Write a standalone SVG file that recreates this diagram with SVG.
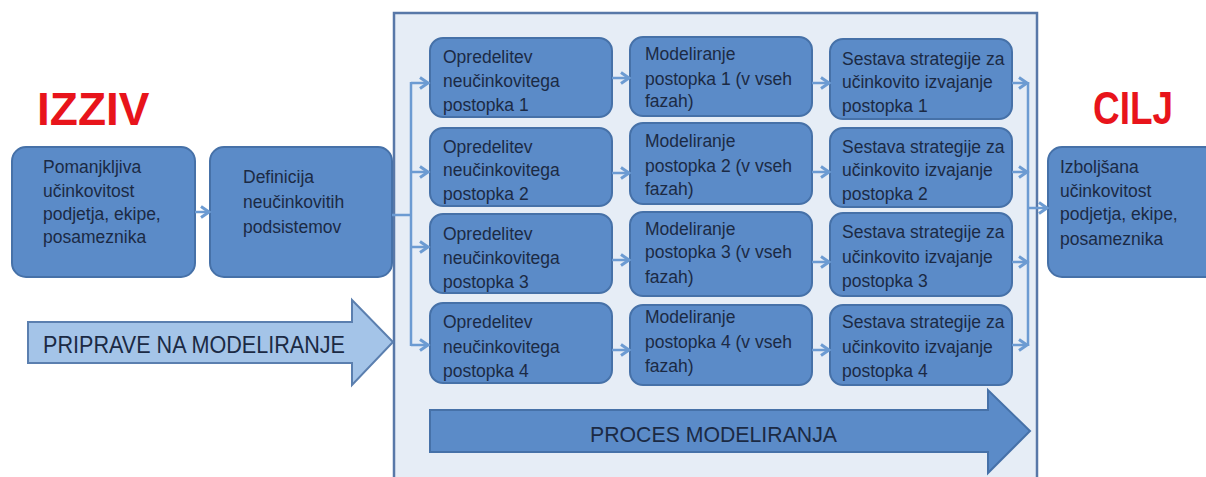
<svg xmlns="http://www.w3.org/2000/svg" width="1206" height="477" viewBox="0 0 1206 477">
<style>
.box{fill:#5B8BC8;stroke:#4671A8;stroke-width:2}
.t{font-family:"Liberation Sans",Arial,sans-serif;font-size:17.5px;fill:#1B2A44}
.big{font-family:"Liberation Sans",Arial,sans-serif;font-size:46px;font-weight:bold;fill:#E8141B}
.con{fill:none;stroke:#6C9BD2;stroke-width:2.5}
</style>
<defs>
<marker id="ah" markerUnits="userSpaceOnUse" markerWidth="14" markerHeight="14" refX="11" refY="7" orient="auto">
<path d="M3,1.5 L11,7 L3,12.5" fill="none" stroke="#6C9BD2" stroke-width="3"/>
</marker>
</defs>
<rect width="1206" height="477" fill="#FFFFFF"/>
<g id="container">
<rect x="394" y="13" width="643" height="475" fill="#E6EDF6" stroke="#5878A8" stroke-width="2.5"/>
</g>
<g id="title-izziv"><text class="big" x="37" y="125">IZZIV</text></g>
<g id="title-cilj"><text class="big" x="1093" y="124" textLength="80" lengthAdjust="spacingAndGlyphs">CILJ</text></g>

<g id="node-izziv">
<rect class="box" x="12" y="147" width="183" height="130" rx="14"/>
<text class="t"><tspan x="43" y="173">Pomanjkljiva</tspan><tspan x="43" y="197">učinkovitost</tspan><tspan x="43" y="220">podjetja, ekipe,</tspan><tspan x="43" y="243">posameznika</tspan></text>
</g>
<g id="node-definicija">
<rect class="box" x="210" y="147" width="182" height="130" rx="14"/>
<text class="t"><tspan x="243" y="183">Definicija</tspan><tspan x="243" y="208">neučinkovitih</tspan><tspan x="243" y="233">podsistemov</tspan></text>
</g>
<g id="node-cilj">
<rect class="box" x="1048" y="147" width="170" height="130" rx="14"/>
<text class="t"><tspan x="1060" y="173">Izboljšana</tspan><tspan x="1060" y="197">učinkovitost</tspan><tspan x="1060" y="220">podjetja, ekipe,</tspan><tspan x="1060" y="245">posameznika</tspan></text>
</g>

<g id="node-opr1"><rect class="box" x="430" y="38" width="182" height="79" rx="13"/>
<text class="t"><tspan x="443" y="63">Opredelitev</tspan><tspan x="443" y="87">neučinkovitega</tspan><tspan x="443" y="111">postopka 1</tspan></text></g>
<g id="node-opr2"><rect class="box" x="430" y="128" width="182" height="78" rx="13"/>
<text class="t"><tspan x="443" y="153">Opredelitev</tspan><tspan x="443" y="176">neučinkovitega</tspan><tspan x="443" y="200">postopka 2</tspan></text></g>
<g id="node-opr3"><rect class="box" x="430" y="214" width="182" height="79" rx="13"/>
<text class="t"><tspan x="443" y="240">Opredelitev</tspan><tspan x="443" y="264">neučinkovitega</tspan><tspan x="443" y="288">postopka 3</tspan></text></g>
<g id="node-opr4"><rect class="box" x="430" y="303" width="182" height="80" rx="13"/>
<text class="t"><tspan x="443" y="328">Opredelitev</tspan><tspan x="443" y="353">neučinkovitega</tspan><tspan x="443" y="377">postopka 4</tspan></text></g>

<g id="node-mod1"><rect class="box" x="630" y="37" width="182" height="79" rx="13"/>
<text class="t"><tspan x="645" y="60">Modeliranje</tspan><tspan x="645" y="85">postopka 1 (v vseh</tspan><tspan x="645" y="107">fazah)</tspan></text></g>
<g id="node-mod2"><rect class="box" x="630" y="123" width="182" height="81" rx="13"/>
<text class="t"><tspan x="645" y="147">Modeliranje</tspan><tspan x="645" y="172">postopka 2 (v vseh</tspan><tspan x="645" y="195">fazah)</tspan></text></g>
<g id="node-mod3"><rect class="box" x="630" y="212" width="182" height="84" rx="13"/>
<text class="t"><tspan x="645" y="235">Modeliranje</tspan><tspan x="645" y="258">postopka 3 (v vseh</tspan><tspan x="645" y="283">fazah)</tspan></text></g>
<g id="node-mod4"><rect class="box" x="630" y="305" width="182" height="80" rx="13"/>
<text class="t"><tspan x="645" y="323">Modeliranje</tspan><tspan x="645" y="348">postopka 4 (v vseh</tspan><tspan x="645" y="372">fazah)</tspan></text></g>

<g id="node-ses1"><rect class="box" x="830" y="39" width="182" height="80" rx="13"/>
<text class="t"><tspan x="842" y="65">Sestava strategije za</tspan><tspan x="842" y="88">učinkovito izvajanje</tspan><tspan x="842" y="112">postopka 1</tspan></text></g>
<g id="node-ses2"><rect class="box" x="830" y="128" width="182" height="79" rx="13"/>
<text class="t"><tspan x="842" y="153">Sestava strategije za</tspan><tspan x="842" y="176">učinkovito izvajanje</tspan><tspan x="842" y="200">postopka 2</tspan></text></g>
<g id="node-ses3"><rect class="box" x="830" y="213" width="182" height="83" rx="13"/>
<text class="t"><tspan x="842" y="238">Sestava strategije za</tspan><tspan x="842" y="263">učinkovito izvajanje</tspan><tspan x="842" y="287">postopka 3</tspan></text></g>
<g id="node-ses4"><rect class="box" x="830" y="305" width="182" height="80" rx="13"/>
<text class="t"><tspan x="842" y="328">Sestava strategije za</tspan><tspan x="842" y="353">učinkovito izvajanje</tspan><tspan x="842" y="377">postopka 4</tspan></text></g>

<g id="arrow-priprave">
<path d="M28,322 L352,322 L352,300 L393,342 L352,385 L352,363 L28,363 Z" fill="#A4C4E8" stroke="#5B7FAF" stroke-width="2"/>
<text x="43" y="353" textLength="302" lengthAdjust="spacingAndGlyphs" style="font-family:'Liberation Sans',Arial,sans-serif;font-size:24px;fill:#1B2A44">PRIPRAVE NA MODELIRANJE</text>
</g>
<g id="arrow-proces">
<path d="M430,410 L988,410 L988,390 L1030,431 L988,473 L988,452 L430,452 Z" fill="#5B8BC8" stroke="#4671A8" stroke-width="2"/>
<text x="590" y="442" textLength="247" lengthAdjust="spacingAndGlyphs" style="font-family:'Liberation Sans',Arial,sans-serif;font-size:22px;fill:#1B2A44">PROCES MODELIRANJA</text>
</g>

<g id="connectors">
<path class="con" marker-end="url(#ah)" d="M195,212 L209,212"/>
<path class="con" d="M392,215 L411,215 M411,82 L411,346"/>
<path class="con" marker-end="url(#ah)" d="M411,83 L428,83"/>
<path class="con" marker-end="url(#ah)" d="M411,172 L428,172"/>
<path class="con" marker-end="url(#ah)" d="M411,247 L428,247"/>
<path class="con" marker-end="url(#ah)" d="M411,345 L428,345"/>
<path class="con" marker-end="url(#ah)" d="M612,78 L629,78"/>
<path class="con" marker-end="url(#ah)" d="M612,173 L629,173"/>
<path class="con" marker-end="url(#ah)" d="M612,260 L629,260"/>
<path class="con" marker-end="url(#ah)" d="M612,350 L629,350"/>
<path class="con" marker-end="url(#ah)" d="M812,83 L829,83"/>
<path class="con" marker-end="url(#ah)" d="M812,172 L829,172"/>
<path class="con" marker-end="url(#ah)" d="M812,262 L829,262"/>
<path class="con" marker-end="url(#ah)" d="M812,350 L829,350"/>
<path class="con" marker-end="url(#ah)" d="M1012,83 L1027,83"/>
<path class="con" marker-end="url(#ah)" d="M1012,172 L1027,172"/>
<path class="con" marker-end="url(#ah)" d="M1012,262 L1027,262"/>
<path class="con" marker-end="url(#ah)" d="M1012,345 L1027,345"/>
<path class="con" d="M1028,82 L1028,346"/>
<path class="con" marker-end="url(#ah)" d="M1028,208 L1047,208"/>
</g>
</svg>
